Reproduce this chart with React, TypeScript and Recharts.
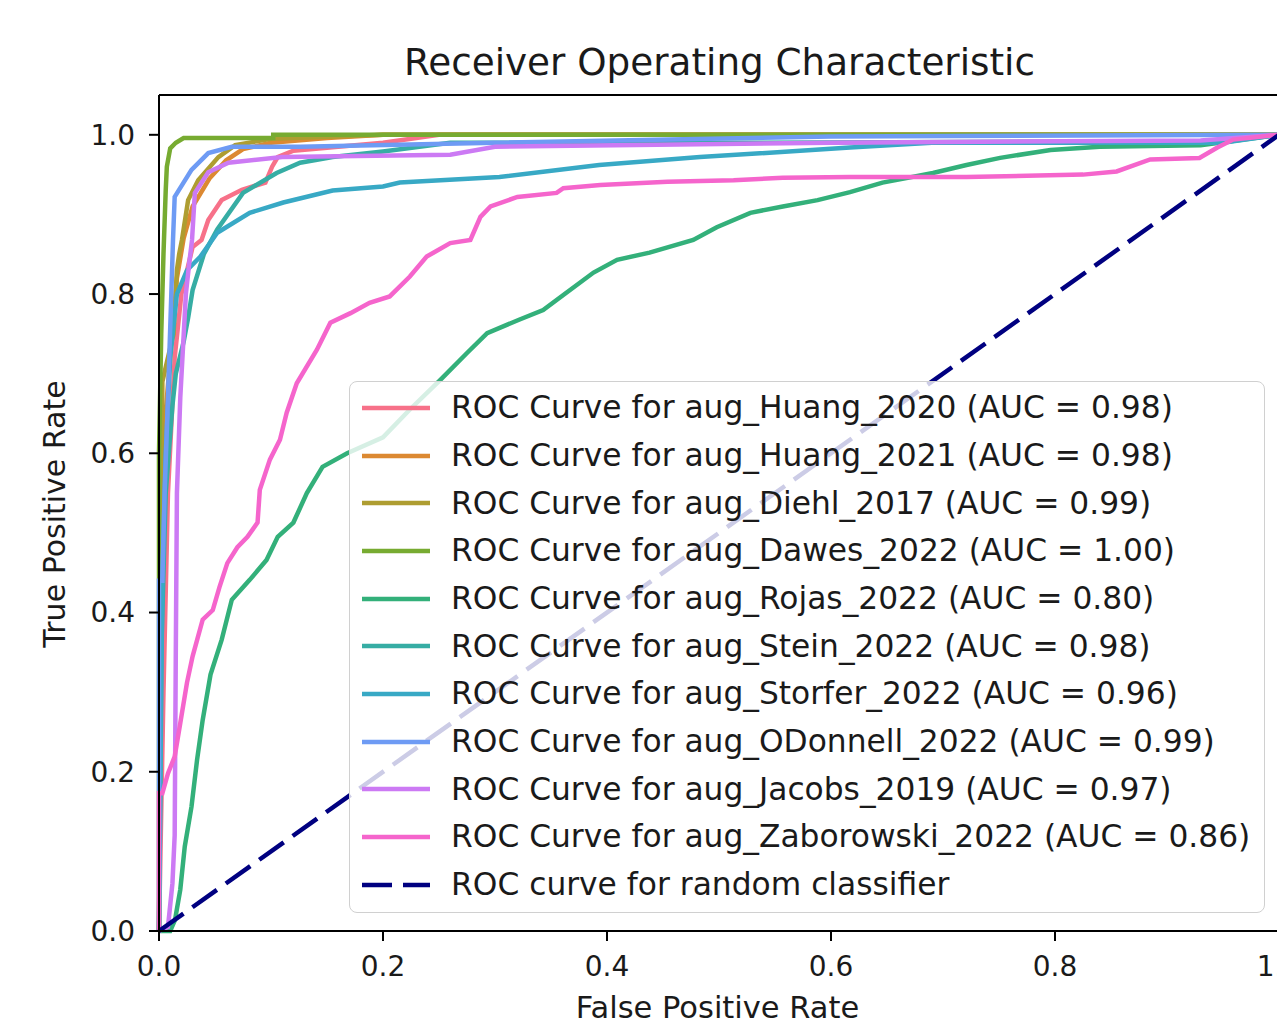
import { Line, LineChart, ReferenceLine, XAxis, YAxis } from "recharts";

const FONT = "'DejaVu Sans', 'Liberation Sans', sans-serif";
const TEXT = "#1a1a1a";

// ROC points (false positive rate / true positive rate)
const huang2020Fpr = [0, 0.004, 0.008, 0.014, 0.02, 0.03, 0.038, 0.044, 0.056, 0.074, 0.095, 0.101, 0.106, 0.12, 0.2, 0.25, 1];
const huang2020Tpr = [0, 0.3, 0.55, 0.72, 0.8, 0.859, 0.868, 0.893, 0.918, 0.931, 0.94, 0.96, 0.972, 0.98, 0.99, 1, 1];

const huang2021Fpr = [0, 0.003, 0.01, 0.016, 0.022, 0.03, 0.045, 0.06, 0.075, 0.1, 0.15, 0.2, 1];
const huang2021Tpr = [0, 0.6, 0.72, 0.82, 0.87, 0.91, 0.945, 0.968, 0.982, 0.99, 0.996, 1, 1];

const diehlFpr = [0, 0.003, 0.013, 0.016, 0.018, 0.0205, 0.026, 0.035, 0.053, 0.068, 0.1, 0.2, 1];
const diehlTpr = [0, 0.69, 0.75, 0.83, 0.85, 0.868, 0.918, 0.943, 0.972, 0.987, 0.995, 1, 1];

const dawesFpr = [0, 0, 0.002, 0.004, 0.006, 0.007, 0.01, 0.015, 0.022, 0.102, 0.102, 1];
const dawesTpr = [0, 0.6, 0.75, 0.85, 0.93, 0.96, 0.983, 0.99, 0.996, 0.996, 1, 1];

const rojasFpr = [
  0, 0.01, 0.0143, 0.019, 0.023, 0.029, 0.034, 0.039, 0.046, 0.056, 0.065, 0.081, 0.096, 0.106, 0.12, 0.132,
  0.146, 0.168, 0.2, 0.224, 0.251, 0.275, 0.293, 0.322, 0.343, 0.364, 0.388, 0.409, 0.438, 0.477, 0.498, 0.528,
  0.557, 0.588, 0.617, 0.646, 0.691, 0.721, 0.751, 0.796, 0.84, 0.93, 1
];
const rojasTpr = [
  0, 0, 0.014, 0.052, 0.106, 0.156, 0.215, 0.265, 0.322, 0.366, 0.416, 0.441, 0.466, 0.495, 0.513, 0.55,
  0.583, 0.6, 0.62, 0.655, 0.692, 0.726, 0.751, 0.768, 0.78, 0.802, 0.827, 0.843, 0.852, 0.868, 0.884, 0.902,
  0.91, 0.918, 0.928, 0.94, 0.952, 0.962, 0.971, 0.981, 0.985, 0.987, 1
];

const steinFpr = [0, 0.002, 0.006, 0.012, 0.015, 0.022, 0.026, 0.03, 0.04, 0.052, 0.075, 0.105, 0.126, 0.155, 0.2, 0.26, 0.5, 0.95, 1];
const steinTpr = [0, 0.35, 0.55, 0.66, 0.7, 0.74, 0.77, 0.805, 0.85, 0.881, 0.927, 0.952, 0.965, 0.972, 0.979, 0.99, 0.99, 0.992, 1];

const storferFpr = [0, 0.003, 0.006, 0.01, 0.016, 0.025, 0.037, 0.052, 0.081, 0.111, 0.155, 0.2, 0.215, 0.304, 0.393, 0.483, 0.617, 0.69, 0.95, 1];
const storferTpr = [0, 0.44, 0.6, 0.72, 0.8, 0.83, 0.847, 0.877, 0.902, 0.915, 0.93, 0.935, 0.94, 0.947, 0.962, 0.972, 0.984, 0.99, 0.99, 1];

const odonnellFpr = [0, 0, 0.003, 0.005, 0.008, 0.011, 0.0125, 0.014, 0.029, 0.044, 0.065, 0.126, 0.3, 0.6, 1];
const odonnellTpr = [0, 0.44, 0.44, 0.55, 0.67, 0.8, 0.868, 0.922, 0.956, 0.977, 0.985, 0.985, 0.99, 0.998, 1];

const jacobsFpr = [0, 0.008, 0.012, 0.014, 0.015, 0.016, 0.019, 0.024, 0.027, 0.0295, 0.032, 0.044, 0.062, 0.11, 0.26, 0.3, 0.6, 0.93, 1];
const jacobsTpr = [0, 0.005, 0.06, 0.12, 0.35, 0.55, 0.67, 0.8, 0.839, 0.868, 0.927, 0.953, 0.965, 0.972, 0.975, 0.985, 0.99, 0.993, 1];

const zaborowskiFpr = [
  0, 0, 0.003, 0.008, 0.014, 0.019, 0.025, 0.03, 0.039, 0.048, 0.054, 0.061, 0.07, 0.079, 0.088, 0.09, 0.099,
  0.108, 0.114, 0.123, 0.141, 0.153, 0.171, 0.188, 0.206, 0.224, 0.239, 0.26, 0.278, 0.287, 0.296, 0.32, 0.355,
  0.361, 0.394, 0.454, 0.513, 0.557, 0.617, 0.721, 0.825, 0.855, 0.885, 0.929, 0.945, 0.959, 1
];
const zaborowskiTpr = [
  0, 0.173, 0.173, 0.198, 0.219, 0.261, 0.312, 0.345, 0.391, 0.403, 0.432, 0.462, 0.482, 0.495, 0.513, 0.554, 0.592,
  0.617, 0.651, 0.688, 0.73, 0.764, 0.776, 0.789, 0.797, 0.822, 0.847, 0.864, 0.868, 0.897, 0.91, 0.922, 0.927,
  0.933, 0.937, 0.941, 0.943, 0.946, 0.947, 0.947, 0.95, 0.954, 0.969, 0.971, 0.984, 0.994, 1
];

const randomFpr = [0, 1];
const randomTpr = [0, 1];

const datasetNames = [
  "aug_Huang_2020", "aug_Huang_2021", "aug_Diehl_2017", "aug_Dawes_2022", "aug_Rojas_2022",
  "aug_Stein_2022", "aug_Storfer_2022", "aug_ODonnell_2022", "aug_Jacobs_2019", "aug_Zaborowski_2022"
];
const aucValues = ["0.98", "0.98", "0.99", "1.00", "0.80", "0.98", "0.96", "0.99", "0.97", "0.86"];
// seaborn husl palette, 10 colours
const colors = ["#f77189", "#dc8932", "#ae9d31", "#77ab31", "#33b07a", "#36ada4", "#38a9c5", "#6e9bf4", "#cc7af4", "#f565cc"];

const rates: [number[], number[]][] = [
  [huang2020Fpr, huang2020Tpr],
  [huang2021Fpr, huang2021Tpr],
  [diehlFpr, diehlTpr],
  [dawesFpr, dawesTpr],
  [rojasFpr, rojasTpr],
  [steinFpr, steinTpr],
  [storferFpr, storferTpr],
  [odonnellFpr, odonnellTpr],
  [jacobsFpr, jacobsTpr],
  [zaborowskiFpr, zaborowskiTpr]
];

const toPoints = (fpr: number[], tpr: number[]) => fpr.map((x, i) => ({ x, y: tpr[i] }));

const xTicks = [0, 0.2, 0.4, 0.6, 0.8, 1];
const yTicks = [0, 0.2, 0.4, 0.6, 0.8, 1];

const RANDOM_COLOR = "#000080";
const DASH = "30 11";
const LINE_W = 4.5;

function RocLegend() {
  const rows = datasetNames.map((name, i) => ({
    label: `ROC Curve for ${name} (AUC = ${aucValues[i]})`,
    color: colors[i],
    dashed: false
  }));
  rows.push({ label: "ROC curve for random classifier", color: RANDOM_COLOR, dashed: true });

  return (
    <div
      style={{
        position: "absolute",
        left: 349,
        top: 381,
        width: 916,
        height: 532,
        boxSizing: "border-box",
        border: "1.5px solid #d0d0d0",
        borderRadius: 8,
        background: "rgba(255,255,255,0.8)",
        paddingTop: 2
      }}
    >
      {rows.map((row) => (
        <div key={row.label} style={{ height: 47.7, display: "flex", alignItems: "center" }}>
          <svg width={68} height={10} style={{ marginLeft: 12, flex: "none" }}>
            <line
              x1={0}
              y1={5}
              x2={68}
              y2={5}
              stroke={row.color}
              strokeWidth={LINE_W}
              strokeDasharray={row.dashed ? DASH : undefined}
            />
          </svg>
          <span style={{ marginLeft: 21, fontSize: 31.3, lineHeight: 1, color: TEXT, whiteSpace: "nowrap" }}>{row.label}</span>
        </div>
      ))}
    </div>
  );
}

export default function App() {
  return (
    <div
      style={{
        position: "absolute",
        left: 0,
        top: 0,
        width: 1277,
        height: 1024,
        overflow: "hidden",
        background: "#fff",
        fontFamily: FONT
      }}
    >
      <LineChart width={1300} height={1024} margin={{ top: 95, right: 21, bottom: 0, left: 59 }}>
        <XAxis
          type="number"
          dataKey="x"
          domain={[0, 1]}
          ticks={xTicks}
          tickFormatter={(v: number) => v.toFixed(1)}
          height={93}
          tickSize={10}
          tickMargin={15}
          axisLine={{ stroke: "#000", strokeWidth: 2 }}
          tickLine={{ stroke: "#000", strokeWidth: 2 }}
          tick={{ fill: TEXT, fontSize: 28, fontFamily: FONT }}
          interval={0}
        />
        <YAxis
          type="number"
          dataKey="y"
          domain={[0, 1.05]}
          ticks={yTicks}
          tickFormatter={(v: number) => v.toFixed(1)}
          width={100}
          tickSize={10}
          tickMargin={14}
          axisLine={{ stroke: "#000", strokeWidth: 2 }}
          tickLine={{ stroke: "#000", strokeWidth: 2 }}
          tick={{ fill: TEXT, fontSize: 28, fontFamily: FONT }}
          interval={0}
        />
        <ReferenceLine y={1.05} stroke="#000" strokeWidth={2} />
        <ReferenceLine x={1} stroke="#000" strokeWidth={2} />
        {rates.map(([fpr, tpr], i) => (
          <Line
            key={datasetNames[i]}
            data={toPoints(fpr, tpr)}
            dataKey="y"
            type="linear"
            stroke={colors[i]}
            strokeWidth={LINE_W}
            dot={false}
            activeDot={false}
            isAnimationActive={false}
          />
        ))}
        <Line
          data={toPoints(randomFpr, randomTpr)}
          dataKey="y"
          type="linear"
          stroke={RANDOM_COLOR}
          strokeWidth={LINE_W}
          strokeDasharray={DASH}
          dot={false}
          activeDot={false}
          isAnimationActive={false}
        />
      </LineChart>

      <div
        style={{
          position: "absolute",
          left: 0,
          width: 1439,
          top: 44,
          textAlign: "center",
          fontSize: 37.3,
          lineHeight: 1,
          color: TEXT
        }}
      >
        Receiver Operating Characteristic
      </div>
      <div
        style={{
          position: "absolute",
          left: 0,
          width: 1435,
          top: 993,
          textAlign: "center",
          fontSize: 30.5,
          lineHeight: 1,
          color: TEXT
        }}
      >
        False Positive Rate
      </div>
      <div
        style={{
          position: "absolute",
          left: 55 - 250,
          width: 500,
          top: 514 - 15,
          height: 30,
          textAlign: "center",
          fontSize: 30,
          lineHeight: "30px",
          color: TEXT,
          transform: "rotate(-90deg)"
        }}
      >
        True Positive Rate
      </div>

      <RocLegend />
    </div>
  );
}
